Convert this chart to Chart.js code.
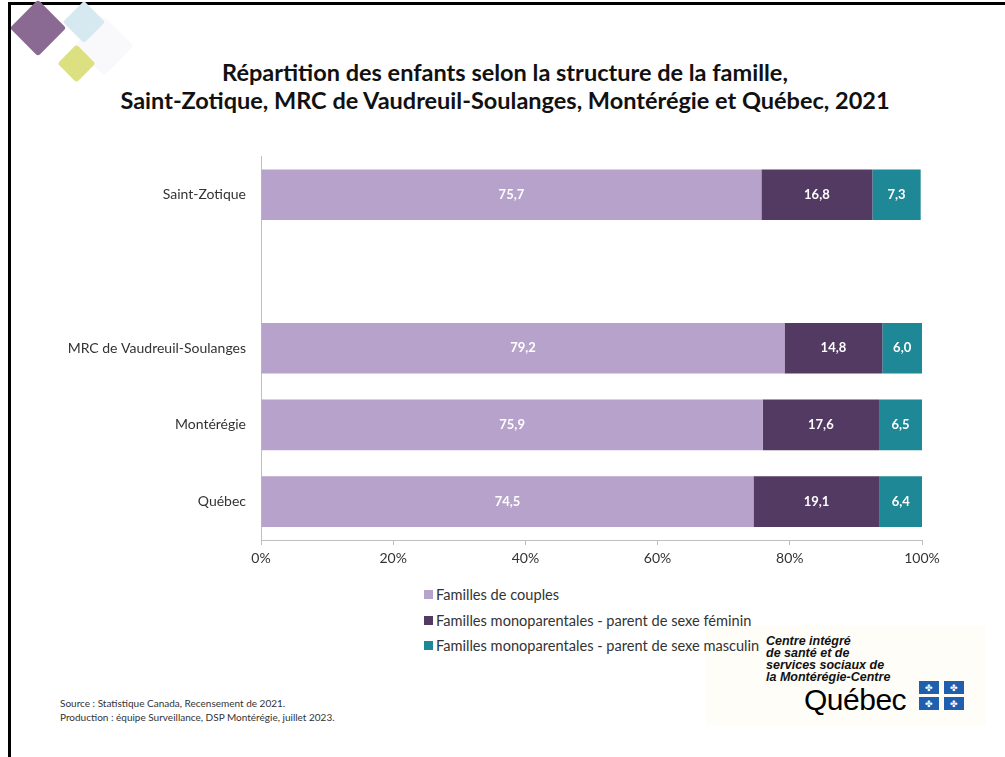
<!DOCTYPE html>
<html>
<head>
<meta charset="utf-8">
<title>Répartition des enfants selon la structure de la famille</title>
<script src="https://cdn.jsdelivr.net/npm/chart.js"></script>
<style>
    body { margin: 0; background: #fff; font-family: Lato, "Open Sans", sans-serif; }
    #page { position: relative; width: 1005px; height: 757px; overflow: hidden; }
    #cadre { position: absolute; left: 8px; top: 2px; width: 1000px; height: 760px; border-top: 3px solid #000; border-left: 3px solid #000; }
    .losange { position: absolute; transform: rotate(45deg); border-radius: 3px; }
    #titre { position: absolute; left: 0; top: 58px; width: 1010px; text-align: center; font-weight: bold; font-size: 23.5px; line-height: 28px; color: #111; }
    #graph { position: absolute; left: 0; top: 133px; }
    #legende { position: absolute; left: 424px; top: 582px; font-size: 14.6px; color: #333; z-index: 2; }
    #legende div { height: 25.5px; display: flex; align-items: center; }
    #legende span.boite { display: inline-block; width: 9px; height: 9px; margin-right: 3px; }
    #source { position: absolute; left: 60px; top: 696px; font-size: 10px; line-height: 14px; color: #333; }
    #logo { position: absolute; left: 706px; top: 625px; width: 280px; height: 100px; background: #fffdf8; }
    #logo .cisss { position: absolute; left: 60px; top: 10px; font-family: "Liberation Sans", Arial, sans-serif; font-weight: bold; font-style: italic; font-size: 12.5px; line-height: 12px; color: #111; }
    #logo .qc { position: absolute; left: 98px; top: 58px; font-family: "Liberation Sans", Arial, sans-serif; font-size: 30px; color: #000; letter-spacing: -0.5px; }
    #logo .fl { position: absolute; width: 20px; height: 13px; background: #1f5fae; color: #fff; font-size: 9px; text-align: center; line-height: 13px; }
</style>
</head>
<body>
<div id="page">
    <div id="cadre"></div>
    <div class="losange" style="left:83px;top:25px;width:42px;height:42px;background:#f9f9fb;"></div>
    <div class="losange" style="left:69px;top:7px;width:30px;height:30px;background:#d6e8f0;"></div>
    <div class="losange" style="left:18px;top:8px;width:40px;height:40px;background:#8a6a92;"></div>
    <div class="losange" style="left:63px;top:50px;width:27px;height:27px;background:#dde080;"></div>

    <div id="titre">Répartition des enfants selon la structure de la famille,<br>Saint-Zotique, MRC de Vaudreuil-Soulanges, Montérégie et Québec, 2021</div>

    <canvas id="graph" width="1005" height="442"></canvas>

    <div id="legende"></div>

    <div id="source">Source : Statistique Canada, Recensement de 2021.<br>Production : équipe Surveillance, DSP Montérégie, juillet 2023.</div>

    <div id="logo">
        <div class="cisss">Centre intégré<br>de santé et de<br>services sociaux de<br>la Montérégie-Centre</div>
        <div class="qc">Québec</div>
        <div class="fl" style="left:213px;top:56px;">✤</div>
        <div class="fl" style="left:238px;top:56px;">✤</div>
        <div class="fl" style="left:213px;top:72px;">✤</div>
        <div class="fl" style="left:238px;top:72px;">✤</div>
    </div>
</div>

<script>
    // Données (pourcentages)
    const territoires = ['Saint-Zotique', '', 'MRC de Vaudreuil-Soulanges', 'Montérégie', 'Québec'];
    const couples = [75.7, null, 79.2, 75.9, 74.5];
    const monoFeminin = [16.8, null, 14.8, 17.6, 19.1];
    const monoMasculin = [7.3, null, 6.0, 6.5, 6.4];
    const ticksX = [0, 20, 40, 60, 80, 100];

    const couleurs = ['#b7a2cb', '#533a62', '#1f8896'];
    const series = [
        'Familles de couples',
        'Familles monoparentales - parent de sexe féminin',
        'Familles monoparentales - parent de sexe masculin'
    ];

    // Étiquettes de valeur au centre de chaque segment
    const etiquettes = {
        id: 'etiquettes',
        afterDatasetsDraw(chart) {
            const ctx = chart.ctx;
            ctx.save();
            ctx.fillStyle = '#fff';
            ctx.font = 'bold 13px Lato, "Open Sans", sans-serif';
            ctx.textAlign = 'center';
            ctx.textBaseline = 'middle';
            chart.data.datasets.forEach((ds, i) => {
                chart.getDatasetMeta(i).data.forEach((bar, j) => {
                    const v = ds.data[j];
                    if (v === null) return;
                    ctx.fillText(v.toFixed(1).replace('.', ','), (bar.x + bar.base) / 2, bar.y);
                });
            });
            ctx.restore();
        }
    };

    const grapheEnfants = new Chart(document.getElementById('graph'), {
        type: 'bar',
        data: {
            labels: territoires,
            datasets: [
                { label: series[0], data: couples, backgroundColor: couleurs[0] },
                { label: series[1], data: monoFeminin, backgroundColor: couleurs[1] },
                { label: series[2], data: monoMasculin, backgroundColor: couleurs[2] }
            ]
        },
        options: {
            indexAxis: 'y',
            responsive: false,
            animation: false,
            barPercentage: 0.66,
            categoryPercentage: 1,
            layout: { padding: { left: 0, right: 83, top: 5, bottom: 0 } },
            plugins: {
                legend: { display: false },
                tooltip: { enabled: false }
            },
            scales: {
                x: {
                    stacked: true,
                    min: 0,
                    max: 100,
                    afterBuildTicks: (scale) => { scale.ticks = ticksX.map(v => ({ value: v })); },
                    afterFit: (scale) => { scale.height = 35; },
                    grid: { drawOnChartArea: false, tickLength: 5, color: '#bfbfbf' },
                    border: { color: '#bfbfbf' },
                    ticks: {
                        padding: 5,
                        color: '#333',
                        font: { family: 'Lato', size: 14 },
                        callback: (v) => v + '%'
                    }
                },
                y: {
                    stacked: true,
                    afterFit: (scale) => { scale.width = 261; },
                    grid: { display: false, drawTicks: false },
                    border: { color: '#bfbfbf' },
                    ticks: {
                        padding: 15,
                        color: '#333',
                        font: { family: 'Lato', size: 14 }
                    }
                }
            }
        },
        plugins: [etiquettes]
    });

    // Légende HTML construite à partir des séries du graphique
    const leg = document.getElementById('legende');
    grapheEnfants.options.plugins.legend.labels.generateLabels(grapheEnfants).forEach(item => {
        const ligne = document.createElement('div');
        ligne.innerHTML = '<span class="boite" style="background:' + item.fillStyle + '"></span>' + item.text;
        leg.appendChild(ligne);
    });
</script>
</body>
</html>
